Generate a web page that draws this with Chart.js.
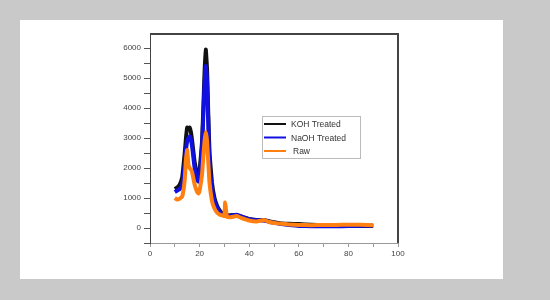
<!DOCTYPE html>
<html lang="en">
<head>
    <meta charset="UTF-8">
    <title>XRD Patterns</title>
    <script src="https://cdn.jsdelivr.net/npm/chart.js"></script>
    <style>
        body { margin: 0; background: #c9c9c9; }
        .panel { position: absolute; left: 20px; top: 20px; width: 483px; height: 259px; background: #fff; }
        .wrap { position: absolute; left: 0; top: 0; width: 550px; height: 300px; }
    </style>
</head>
<body>
    <div class="panel"></div>
    <div class="wrap"><canvas id="xrdChart" width="550" height="300"></canvas></div>

    <script>
        // 2-theta positions (degrees)
        const twoTheta = [10, 11, 12, 13, 14, 14.5, 15, 15.5, 16, 16.5, 17, 18, 19, 19.5, 20, 21, 21.5, 22, 22.5, 23, 23.5, 24,
            25, 26, 27, 28, 29, 30, 30.3, 31, 32, 33, 35, 37, 40, 43, 46, 48, 50, 53, 56, 60, 65, 70, 75, 80, 85, 90];

        const kohTreated = [1300, 1350, 1450, 1700, 2500, 3000, 3350, 3300, 3350, 3200, 2900, 2200, 1800, 1750, 1900, 2900, 4000, 5200, 5950, 5300, 3800, 2500,
            1500, 1000, 750, 600, 500, 480, 470, 440, 420, 430, 430, 380, 300, 270, 260, 230, 190, 150, 140, 130, 110, 90, 80, 75, 70, 70];

        const naohTreated = [1200, 1250, 1300, 1450, 2100, 2600, 2900, 3000, 3050, 2950, 2700, 2000, 1600, 1550, 1700, 2700, 3800, 4800, 5400, 4900, 3500, 2200,
            1300, 900, 700, 550, 450, 430, 420, 400, 400, 420, 440, 380, 290, 260, 250, 210, 170, 130, 100, 70, 60, 55, 60, 65, 75, 80];

        const raw = [1000, 950, 980, 1050, 1600, 2300, 2600, 2100, 2000, 1950, 1850, 1450, 1200, 1150, 1250, 1800, 2400, 2900, 3200, 2900, 2200, 1500,
            900, 650, 520, 450, 420, 400, 850, 380, 360, 370, 400, 330, 250, 220, 270, 200, 170, 140, 120, 100, 95, 100, 100, 110, 105, 90];

        const seriesLabels = ['KOH Treated', 'NaOH Treated', 'Raw'];
        const seriesColors = ['#111111', '#1010e0', '#ff8010'];

        // tick positions: labelled every 1000 / 20, minor every 500 / 10
        const yTicks = [-500, 0, 500, 1000, 1500, 2000, 2500, 3000, 3500, 4000, 4500, 5000, 5500, 6000];
        const xTicks = [0, 10, 20, 30, 40, 50, 60, 70, 80, 90, 100];

        const toPoints = ys => ys.map((y, i) => ({ x: twoTheta[i], y: y }));

        // draws top/right frame and the boxed legend inside the plot
        const framePlugin = {
            id: 'frame',
            afterDraw(chart) {
                const ctx = chart.ctx;
                const a = chart.chartArea;
                ctx.save();
                ctx.strokeStyle = '#444';
                ctx.lineWidth = 2;
                ctx.beginPath();
                ctx.moveTo(a.left, a.top);
                ctx.lineTo(a.right, a.top);
                ctx.lineTo(a.right, a.bottom);
                ctx.stroke();

                // legend box
                const bx = 262, by = 116, bw = 98, bh = 42;
                ctx.lineWidth = 1;
                ctx.strokeStyle = '#bbb';
                ctx.strokeRect(bx + 0.5, by + 0.5, bw, bh);
                ctx.font = '8.5px "Liberation Sans", Arial, sans-serif';
                ctx.textBaseline = 'middle';
                chart.data.datasets.forEach((ds, i) => {
                    const ly = by + 8 + i * 13.5;
                    ctx.strokeStyle = ds.borderColor;
                    ctx.lineWidth = 2;
                    ctx.beginPath();
                    ctx.moveTo(bx + 2, ly);
                    ctx.lineTo(bx + 24, ly);
                    ctx.stroke();
                    ctx.fillStyle = '#333';
                    ctx.fillText(ds.label, bx + (i === 2 ? 31 : 29), ly + 1);
                });
                ctx.restore();
            }
        };

        const ctx = document.getElementById('xrdChart').getContext('2d');
        new Chart(ctx, {
            type: 'line',
            data: {
                datasets: [
                    { label: seriesLabels[0], data: toPoints(kohTreated), borderColor: seriesColors[0], order: 2 },
                    { label: seriesLabels[1], data: toPoints(naohTreated), borderColor: seriesColors[1], order: 1 },
                    { label: seriesLabels[2], data: toPoints(raw), borderColor: seriesColors[2], order: 0 }
                ]
            },
            options: {
                responsive: false,
                animation: false,
                layout: { padding: { left: 110, top: 34, right: 152, bottom: 37 } },
                elements: {
                    line: { borderWidth: 4, tension: 0.1 },
                    point: { radius: 0 }
                },
                plugins: {
                    legend: { display: false },
                    tooltip: { enabled: false }
                },
                scales: {
                    x: {
                        type: 'linear',
                        min: 0,
                        max: 100,
                        border: { color: '#999', width: 1 },
                        grid: { drawOnChartArea: false, tickLength: 4, color: '#999' },
                        ticks: {
                            padding: 2,
                            color: '#444',
                            font: { family: '"Liberation Sans", Arial', size: 8 },
                            maxRotation: 0,
                            autoSkip: false,
                            callback: v => (v % 20 === 0 ? v : '')
                        },
                        afterBuildTicks: s => { s.ticks = xTicks.map(v => ({ value: v })); },
                        afterFit: s => { s.height = 20; }
                    },
                    y: {
                        min: -500,
                        max: 6470,
                        border: { color: '#444', width: 1 },
                        grid: { drawOnChartArea: false, tickLength: 6, color: '#555' },
                        ticks: {
                            padding: 3,
                            color: '#444',
                            font: { family: '"Liberation Sans", Arial', size: 8 },
                            autoSkip: false,
                            callback: v => (v % 1000 === 0 ? v : '')
                        },
                        afterBuildTicks: s => { s.ticks = yTicks.map(v => ({ value: v })); },
                        afterFit: s => { s.width = 40; }
                    }
                }
            },
            plugins: [framePlugin]
        });
    </script>
</body>
</html>
